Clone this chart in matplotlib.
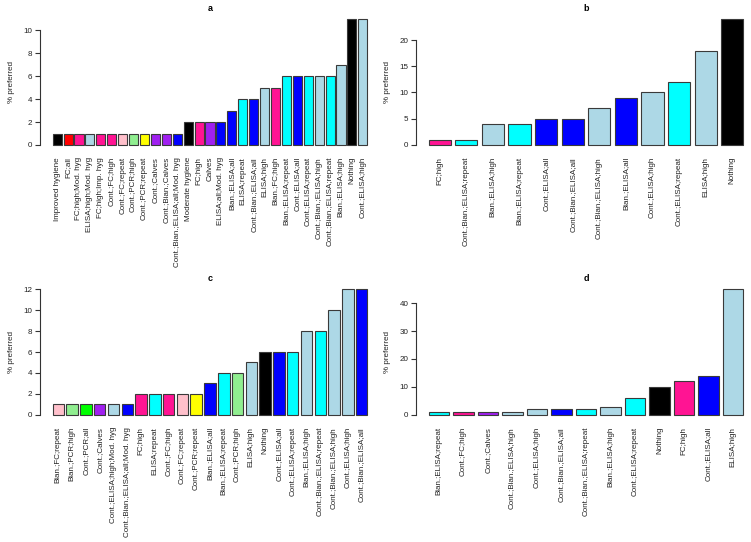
import matplotlib
matplotlib.use('Agg')
import matplotlib.pyplot as plt
plt.rcParams.update({'font.size': 5.8, 'font.family': ['Liberation Sans', 'DejaVu Sans']})

# ---- data ----
labels_a = ['Improved hygiene', 'FC;all', 'FC;high;Mod. hyg', 'ELISA;high;Mod. hyg', 'FC;high;Imp. hyg',
            'Cont.;FC;high', 'Cont.;FC;repeat', 'Cont.;PCR;high', 'Cont.;PCR;repeat', 'Cont.;Calves',
            'Cont.;Bian.;Calves', 'Cont.;Bian.;ELISA;all;Mod. hyg', 'Moderate hygiene', 'FC;high', 'Calves',
            'ELISA;all;Mod. hyg', 'Bian.;ELISA;all', 'ELISA;repeat', 'Cont.;Bian.;ELISA;all', 'ELISA;high',
            'Bian.;FC;high', 'Bian.;ELISA;repeat', 'Cont.;ELISA;all', 'Cont.;ELISA;repeat',
            'Cont.;Bian.;ELISA;high', 'Cont.;Bian.;ELISA;repeat', 'Bian.;ELISA;high', 'Nothing',
            'Cont.;ELISA;high']
values_a = [1, 1, 1, 1, 1, 1, 1, 1, 1, 1, 1, 1, 2, 2, 2, 2, 3, 4, 4, 5, 5, 6, 6, 6, 6, 6, 7, 11, 11]

labels_b = ['FC;high', 'Cont.;Bian.;ELISA;repeat', 'Bian.;ELISA;high', 'Bian.;ELISA;repeat',
            'Cont.;ELISA;all', 'Cont.;Bian.;ELISA;all', 'Cont.;Bian.;ELISA;high', 'Bian.;ELISA;all',
            'Cont.;ELISA;high', 'Cont.;ELISA;repeat', 'ELISA;high', 'Nothing']
values_b = [1, 1, 4, 4, 5, 5, 7, 9, 10, 12, 18, 24]

labels_c = ['Bian.;FC;repeat', 'Bian.;PCR;high', 'Cont.;PCR;all', 'Cont.;Calves',
            'Cont.;ELISA;high;Mod. hyg', 'Cont.;Bian.;ELISA;all;Mod. hyg', 'FC;high', 'ELISA;repeat',
            'Cont.;FC;high', 'Cont.;FC;repeat', 'Cont.;PCR;repeat', 'Bian.;ELISA;all', 'Bian.;ELISA;repeat',
            'Cont.;PCR;high', 'ELISA;high', 'Nothing', 'Cont.;ELISA;all', 'Cont.;ELISA;repeat',
            'Bian.;ELISA;high', 'Cont.;Bian.;ELISA;repeat', 'Cont.;Bian.;ELISA;high', 'Cont.;ELISA;high',
            'Cont.;Bian.;ELISA;all']
values_c = [1, 1, 1, 1, 1, 1, 2, 2, 2, 2, 2, 3, 4, 4, 5, 6, 6, 6, 8, 8, 10, 12, 12]

labels_d = ['Bian.;ELISA;repeat', 'Cont.;FC;high', 'Cont.;Calves', 'Cont.;Bian.;ELISA;high',
            'Cont.;ELISA;high', 'Cont.;Bian.;ELISA;all', 'Cont.;Bian.;ELISA;repeat', 'Bian.;ELISA;high',
            'Cont.;ELISA;repeat', 'Nothing', 'FC;high', 'Cont.;ELISA;all', 'ELISA;high']
values_d = [1, 1, 1, 1, 2, 2, 2, 3, 6, 10, 12, 14, 45]

ticks_a = [0, 2, 4, 6, 8, 10]
ticks_b = [0, 5, 10, 15, 20]
ticks_c = [0, 2, 4, 6, 8, 10, 12]
ticks_d = [0, 10, 20, 30, 40]


def bar_color(lab):
    # colour by test type (R colour names)
    if 'ELISA;high' in lab:
        return '#ADD8E6'
    if 'ELISA;repeat' in lab:
        return '#00FFFF'
    if 'ELISA;all' in lab:
        return '#0000FF'
    if 'FC;high' in lab:
        return '#FF1493'
    if 'FC;repeat' in lab:
        return '#FFC0CB'
    if 'FC;all' in lab:
        return '#FF0000'
    if 'PCR;high' in lab:
        return '#90EE90'
    if 'PCR;repeat' in lab:
        return '#FFFF00'
    if 'PCR;all' in lab:
        return '#00FF00'
    if 'Calves' in lab:
        return '#A020F0'
    return '#000000'


W, H = 751, 542
fig = plt.figure(figsize=(W / 100, H / 100), dpi=100)


def panel(px, py, labels, values, ticks, title):
    # px, py: pixel extents of the plot region
    ax = fig.add_axes([px[0] / W, 1 - py[1] / H, (px[1] - px[0]) / W, (py[1] - py[0]) / H])
    n = len(values)
    xs = [0.7 + 1.2 * i for i in range(n)]
    ax.bar(xs, values, width=1, color=[bar_color(l) for l in labels],
           edgecolor='#3a3a3a', linewidth=0.8)
    span = n * 1.2 - 0.2
    ax.set_xlim(0.2 - 0.04 * span, n * 1.2 + 0.04 * span)
    top = max(values)
    ax.set_ylim(-0.04 * top, 1.04 * top)
    ax.set_xticks(xs)
    ax.set_xticklabels(labels, rotation=90, va='top', ha='center', color='#222222')
    ax.tick_params(axis='x', length=0, pad=5)
    ax.set_yticks(ticks)
    ax.tick_params(axis='y', length=3.5, width=0.8, color='#333333', pad=2, labelcolor='#222222')
    for s in ['top', 'right', 'bottom']:
        ax.spines[s].set_visible(False)
    ax.spines['left'].set_bounds(ticks[0], ticks[-1])
    ax.spines['left'].set_linewidth(0.8)
    ax.spines['left'].set_color('#333333')
    ax.set_ylabel('% preferred', labelpad=6, color='#222222')
    ax.set_title(title, fontweight='bold', fontsize=6.5, pad=2)
    ax.patch.set_visible(False)
    return ax


panel((40, 380), (14, 150), labels_a, values_a, ticks_a, 'a')
panel((416, 756), (14, 150), labels_b, values_b, ticks_b, 'b')
panel((40, 380), (284, 420), labels_c, values_c, ticks_c, 'c')
panel((416, 756), (284, 420), labels_d, values_d, ticks_d, 'd')

plt.savefig('out.png', dpi=100)
plt.close()
